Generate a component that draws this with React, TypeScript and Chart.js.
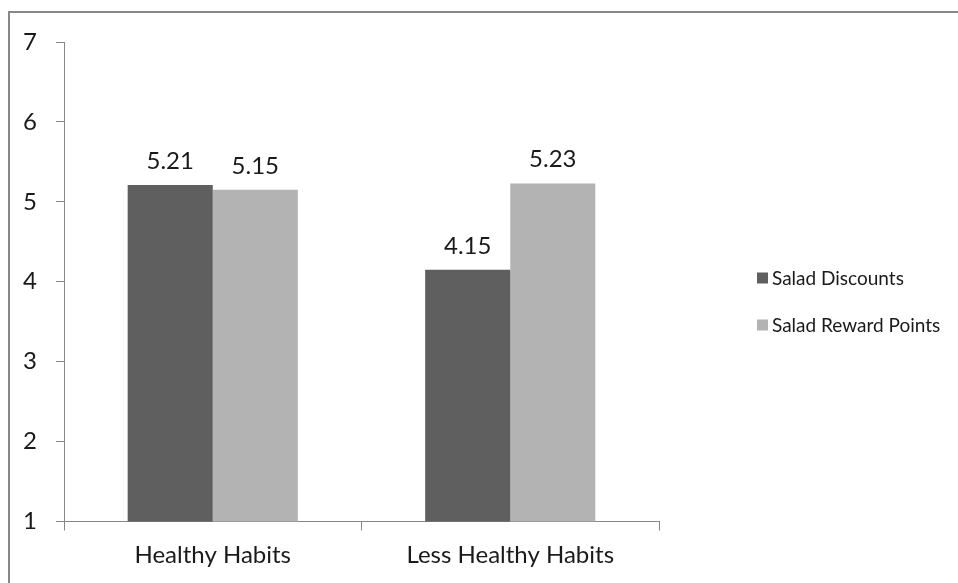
import React, { useEffect, useRef } from "react";
import { Chart, registerables } from "chart.js";

Chart.register(...registerables);

const categories = ["Healthy Habits", "Less Healthy Habits"];
const seriesNames = ["Salad Discounts", "Salad Reward Points"];
const saladDiscounts = [5.21, 4.15];
const saladRewardPoints = [5.15, 5.23];
const seriesColors = ["#5f5f5f", "#b3b3b3"];
const yMin = 1;
const yMax = 7;
const yStep = 1;

const FONT = "Lato, 'Open Sans', sans-serif";
const TEXT = "#1a1a1a";
const AXIS = "#878787";

const valueLabels = {
  id: "valueLabels",
  afterDatasetsDraw(chart: any) {
    const ctx = chart.ctx;
    ctx.save();
    ctx.font = `24px ${FONT}`;
    ctx.fillStyle = TEXT;
    ctx.textAlign = "center";
    ctx.textBaseline = "alphabetic";
    chart.data.datasets.forEach((ds: any, di: number) => {
      const meta = chart.getDatasetMeta(di);
      meta.data.forEach((bar: any, i: number) => {
        ctx.fillText(ds.data[i].toFixed(2), bar.x, bar.y - 16);
      });
    });
    ctx.restore();
  },
};

const sideLegend = {
  id: "sideLegend",
  afterDraw(chart: any) {
    const ctx = chart.ctx;
    const x0 = chart.chartArea.right + 98;
    const rowY = [270, 317];
    ctx.save();
    ctx.font = `19px ${FONT}`;
    ctx.textAlign = "left";
    ctx.textBaseline = "middle";
    chart.data.datasets.forEach((ds: any, i: number) => {
      const y = rowY[i];
      ctx.fillStyle = ds.backgroundColor;
      ctx.fillRect(x0, y - 5.5, 11, 11);
      ctx.fillStyle = TEXT;
      ctx.fillText(ds.label, x0 + 15, y + 1);
    });
    ctx.restore();
  },
};

export default function App() {
  const ref = useRef<HTMLCanvasElement | null>(null);
  useEffect(() => {
    document.body.style.overflow = "hidden";
    document.documentElement.style.overflow = "hidden";
    const canvas = ref.current!;
    const chart = new Chart(canvas, {
      type: "bar",
      data: {
        labels: categories,
        datasets: [
          {
            label: seriesNames[0],
            data: saladDiscounts,
            backgroundColor: seriesColors[0],
            barPercentage: 1,
            categoryPercentage: 0.572,
          },
          {
            label: seriesNames[1],
            data: saladRewardPoints,
            backgroundColor: seriesColors[1],
            barPercentage: 1,
            categoryPercentage: 0.572,
          },
        ],
      },
      options: {
        animation: false,
        responsive: false,
        maintainAspectRatio: false,
        layout: { padding: { left: 0, top: 34, right: 299, bottom: 0 } },
        plugins: {
          legend: { display: false },
          tooltip: { enabled: false },
        },
        scales: {
          x: {
            grid: {
              display: true,
              drawOnChartArea: false,
              drawTicks: true,
              tickLength: 9,
              color: AXIS,
              offset: true,
            },
            border: { display: true, color: AXIS, width: 1 },
            ticks: { color: TEXT, font: { family: FONT, size: 24 }, padding: 10 },
            afterFit: (s: any) => {
              s.height = 53.5;
            },
          },
          y: {
            min: yMin,
            max: yMax,
            grid: {
              display: true,
              drawOnChartArea: false,
              drawTicks: true,
              tickLength: 8,
              color: AXIS,
            },
            border: { display: true, color: AXIS, width: 1 },
            ticks: {
              stepSize: yStep,
              color: TEXT,
              font: { family: FONT, size: 24 },
              padding: 19,
            },
            afterFit: (s: any) => {
              s.width = 56;
            },
          },
        },
      },
      plugins: [valueLabels, sideLegend],
    });
    return () => chart.destroy();
  }, []);

  return (
    <div style={{ position: "relative", width: 950, height: 567 }}>
      <div
        style={{
          position: "fixed",
          left: 8,
          top: 11,
          width: 2000,
          height: 2000,
          borderTop: `2px solid ${AXIS}`,
          borderLeft: `2px solid ${AXIS}`,
          boxSizing: "border-box",
        }}
      />
      <canvas
        ref={ref}
        width={950}
        height={567}
        style={{ position: "absolute", left: 0, top: 0, width: 950, height: 567 }}
      />
    </div>
  );
}
